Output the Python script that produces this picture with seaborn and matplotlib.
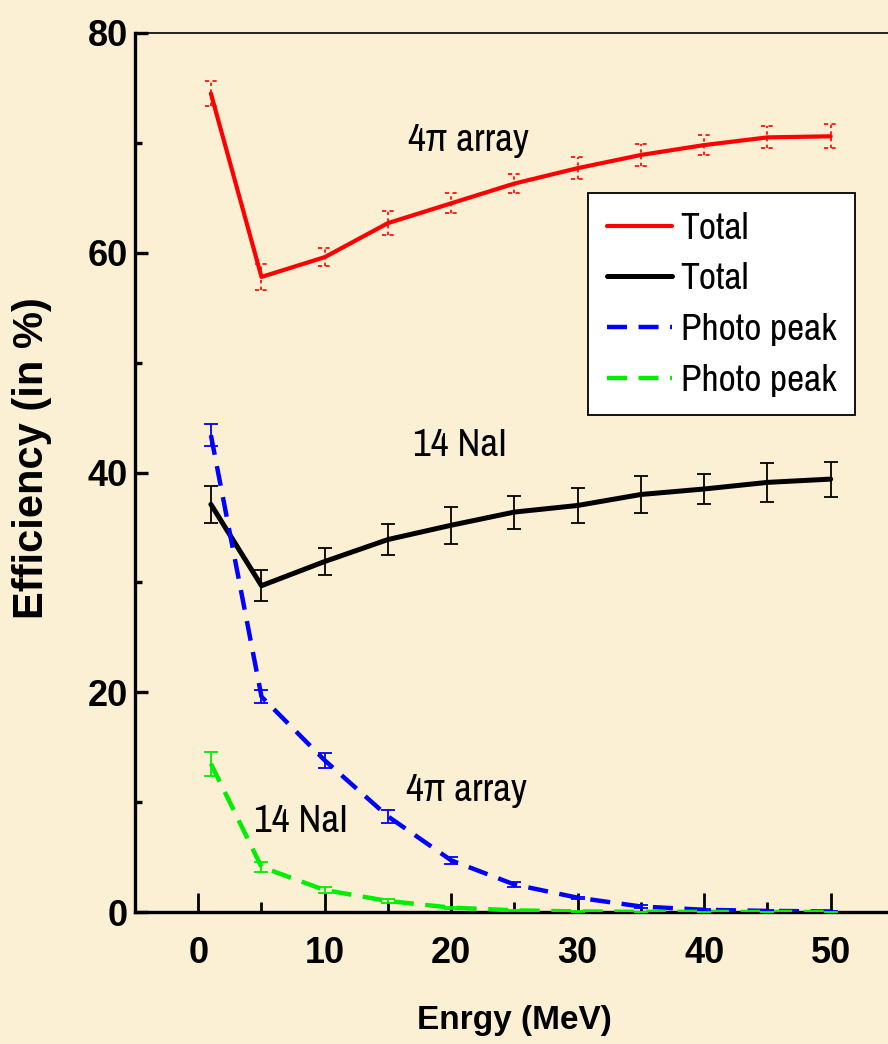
import matplotlib
matplotlib.use("Agg")
import matplotlib.pyplot as plt
from matplotlib import font_manager
from matplotlib.ticker import MultipleLocator
from matplotlib.lines import Line2D
import numpy as np
import pandas as pd
import seaborn as sns

# ---- data -------------------------------------------------------------
energy = [1, 5, 10, 15, 20, 25, 30, 35, 40, 45, 50]

total_4pi = [74.5, 57.8, 59.6, 62.7, 64.5, 66.3, 67.7, 68.9, 69.8, 70.5, 70.6]
total_4pi_err = [1.1, 1.2, 0.8, 1.1, 0.9, 0.9, 1.0, 1.0, 0.9, 1.0, 1.1]

total_nai = [37.1, 29.7, 31.9, 33.9, 35.2, 36.4, 37.0, 38.0, 38.5, 39.1, 39.4]
total_nai_err = [1.7, 1.4, 1.2, 1.4, 1.7, 1.5, 1.6, 1.7, 1.4, 1.8, 1.6]

photo_4pi = [43.4, 19.6, 13.8, 8.7, 4.7, 2.5, 1.3, 0.5, 0.2, 0.1, 0.05]
photo_4pi_err = [1.0, 0.6, 0.7, 0.6, 0.3, 0.2, 0.1, 0.1, 0.1, 0.05, 0.05]

photo_nai = [13.5, 4.1, 2.0, 1.0, 0.4, 0.15, 0.05, 0.02, 0.01, 0.0, 0.0]
photo_nai_err = [1.1, 0.45, 0.3, 0.2, 0.1, 0.05, 0.05, 0.02, 0.01, 0.0, 0.0]

legend_labels = ["Total", "Total", "Photo peak", "Photo peak"]
x_ticks = [0, 10, 20, 30, 40, 50]
y_ticks = [0, 20, 40, 60, 80]

# ---- fonts ------------------------------------------------------------
fonts = font_manager.fontManager.ttflist
names = {f.name for f in fonts}
narrow = "Archivo Narrow" if "Archivo Narrow" in names else "Liberation Sans"
narrow_has_bold = any(f.name == narrow and f.weight in (700, "bold") for f in fonts)
bold_family = narrow if narrow_has_bold else "Liberation Sans"
tick_size = 29 if narrow_has_bold else 26
xlabel_size = 28 if narrow_has_bold else 24

sns.set_style("ticks")
plt.rcParams["font.family"] = [narrow, "DejaVu Sans"]
plt.rcParams.update({"text.color": "black", "axes.labelcolor": "black",
                     "xtick.color": "black", "ytick.color": "black",
                     "axes.edgecolor": "black"})

bg = "#FBEFD4"
W, H = 888, 1044
fig = plt.figure(figsize=(W / 100, H / 100), dpi=100)
fig.patch.set_facecolor(bg)
ax = fig.add_axes([135 / W, 1 - 912 / H, 1 - 135 / W, (912 - 33) / H])
ax.set_facecolor(bg)

df = pd.DataFrame({"energy": energy, "t4": total_4pi, "tn": total_nai,
                   "p4": photo_4pi, "pn": photo_nai})

dash = (0, (4.5, 2.6))
sns.lineplot(data=df, x="energy", y="t4", ax=ax, color="#FF0000", lw=3.0, label=legend_labels[0], zorder=3)
sns.lineplot(data=df, x="energy", y="tn", ax=ax, color="black", lw=3.6, label=legend_labels[1], zorder=3)
sns.lineplot(data=df, x="energy", y="p4", ax=ax, color="#0000FF", lw=3.2, linestyle=dash, label=legend_labels[2], zorder=3)
sns.lineplot(data=df, x="energy", y="pn", ax=ax, color="#00EE00", lw=3.2, linestyle=dash, label=legend_labels[3], zorder=3)

# error bars
for vals, errs, col in [(total_nai, total_nai_err, "black"),
                        (photo_4pi, photo_4pi_err, "#0000FF"),
                        (photo_nai, photo_nai_err, "#00EE00")]:
    ax.errorbar(energy, vals, yerr=errs, fmt="none", ecolor=col,
                elinewidth=1.3, capsize=4.8, capthick=1.3, zorder=4)

# dashed red error bars with dashed caps
e = np.array(energy, float)
v = np.array(total_4pi)
er = np.array(total_4pi_err)
cap = 0.5
ax.vlines(e, v - er, v + er, colors="#FF0000", lw=1.2, linestyles=(0, (2, 2)), zorder=4)
ax.hlines(v + er, e - cap, e + cap, colors="#FF0000", lw=1.2, linestyles=(0, (2.5, 2)), zorder=4)
ax.hlines(v - er, e - cap, e + cap, colors="#FF0000", lw=1.2, linestyles=(0, (2.5, 2)), zorder=4)

# ---- axes -------------------------------------------------------------
ax.set_xlim(-5, 54.53)
ax.set_ylim(0, 80)
ax.set_xticks(x_ticks)
ax.set_yticks(y_ticks)
ax.xaxis.set_minor_locator(MultipleLocator(5))
ax.yaxis.set_minor_locator(MultipleLocator(10))

for s in ["left", "bottom"]:
    ax.spines[s].set_linewidth(2.4)
ax.spines["top"].set_linewidth(1.2)
ax.spines["right"].set_visible(False)
for s in ax.spines.values():
    s.set_color("black")

ax.tick_params(axis="x", which="major", direction="in", length=14, width=2.0, pad=17,
               color="black", labelcolor="black")
ax.tick_params(axis="x", which="minor", direction="in", length=7, width=2.0, color="black")
ax.tick_params(axis="y", which="major", direction="in", length=9, width=2.4, pad=5,
               color="black", labelcolor="black")
ax.tick_params(axis="y", which="minor", direction="in", length=5, width=2.4, color="black")
for lab in ax.get_xticklabels() + ax.get_yticklabels():
    lab.set_fontfamily([bold_family, "DejaVu Sans"])
    lab.set_fontweight("bold")
    lab.set_fontsize(tick_size)

ax.set_xlabel("Enrgy (MeV)", fontsize=xlabel_size, fontweight="bold", color="black",
              family=[bold_family, "DejaVu Sans"])
ax.xaxis.set_label_coords((514 - 135) / 753, -(1044 - 912 - 8) / 879, transform=ax.transAxes)
ax.xaxis.label.set_va("bottom")
ax.set_ylabel("Efficiency (in %)", fontsize=30, fontweight="bold", color="black",
              family=["Liberation Sans", "DejaVu Sans"])
ax.yaxis.set_label_coords((52 - 135) / 753, (912 - 458) / 879, transform=ax.transAxes)

# ---- annotations ------------------------------------------------------
txt = dict(fontsize=28, family=[narrow, "DejaVu Sans"], ha="left", va="center", color="black")
ax.text(16.6, 70.2, "4π array", **txt)
ax.text(17.0, 42.5, "14 NaI", **txt)
ax.text(16.4, 11.1, "4π array", **txt)
ax.text(4.4, 8.2, "14 NaI", **txt)

# ---- legend -----------------------------------------------------------
handles = [Line2D([], [], color="#FF0000", lw=3.0),
           Line2D([], [], color="black", lw=3.6),
           Line2D([], [], color="#0000FF", lw=3.2, linestyle=dash),
           Line2D([], [], color="#00EE00", lw=3.2, linestyle=dash)]
leg = ax.legend(handles, legend_labels, loc="upper left",
                bbox_to_anchor=(588 / W, 1 - 193 / H), bbox_transform=fig.transFigure,
                borderaxespad=0, frameon=True, fancybox=False, framealpha=1,
                facecolor="white", edgecolor="black", handlelength=1.75,
                handletextpad=0.22, labelspacing=0.47, borderpad=0.5,
                prop=font_manager.FontProperties(family=[narrow, "DejaVu Sans"], size=27))
leg.get_frame().set_linewidth(1.3)
for t in leg.get_texts():
    t.set_color("black")

fig.savefig("out.png", dpi=100, facecolor=bg)
